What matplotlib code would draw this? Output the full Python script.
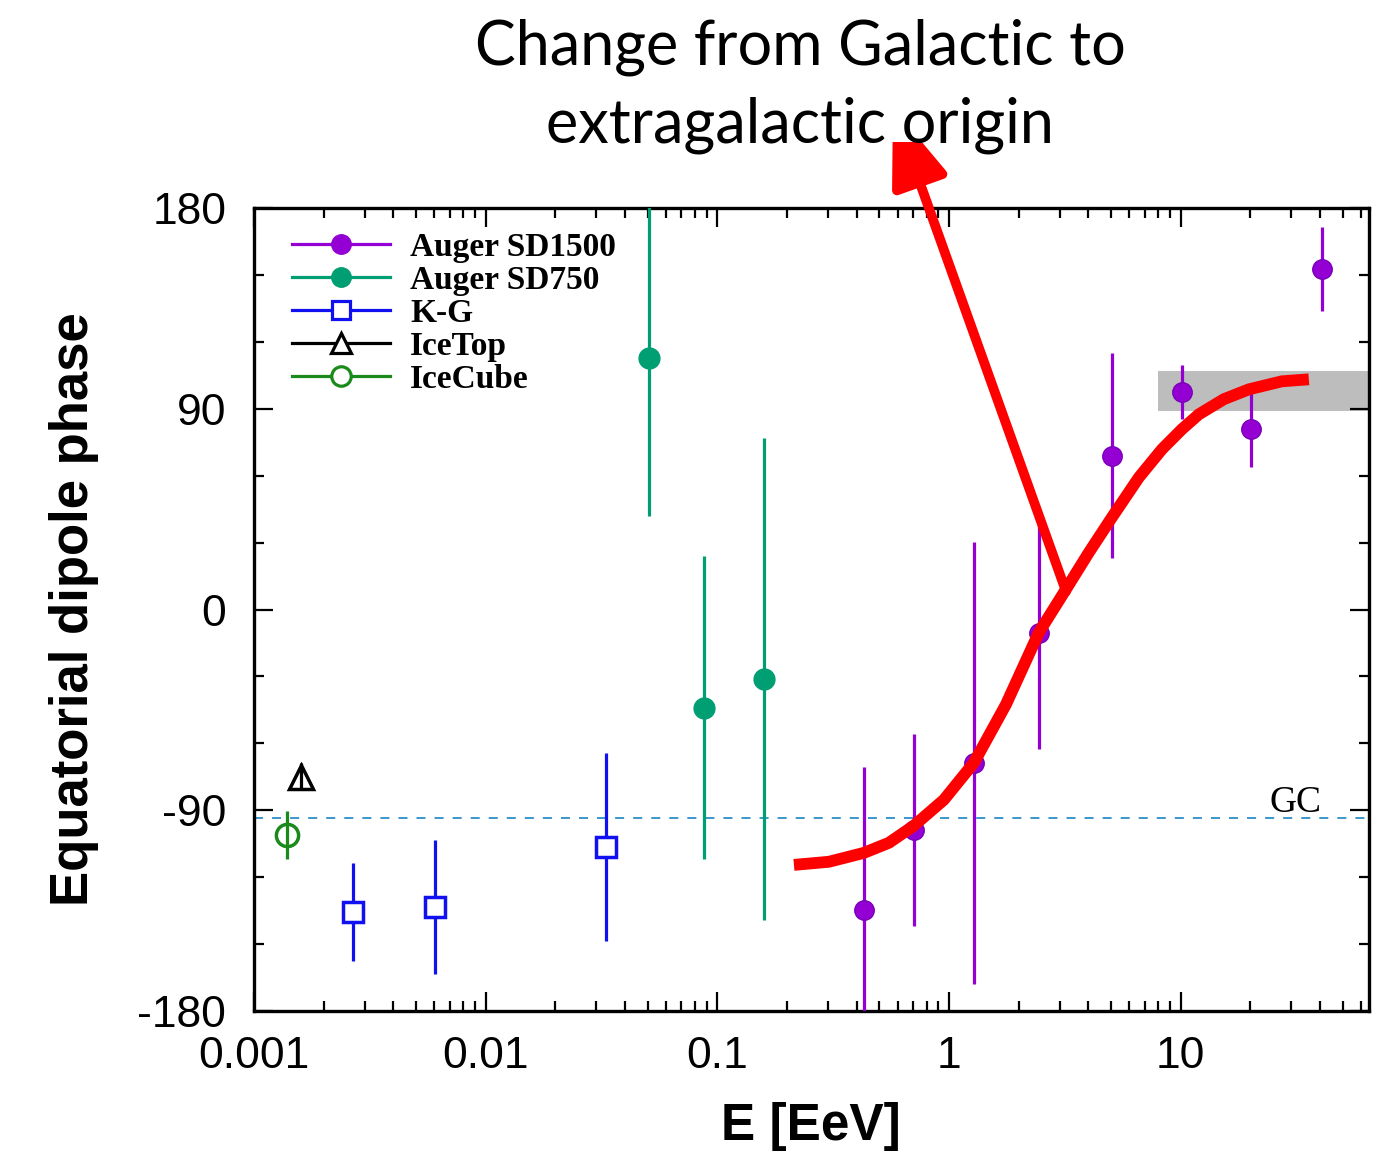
import matplotlib
matplotlib.use('Agg')
import matplotlib.pyplot as plt
from matplotlib.lines import Line2D
from matplotlib.ticker import FixedLocator, LogLocator, NullFormatter, FixedFormatter
from matplotlib.patches import FancyArrowPatch

plt.rcParams['axes.unicode_minus'] = False

# ---------------- data ----------------
sd1500_E = [0.43, 0.706, 1.28, 2.44, 5.05, 10.1, 20.2, 40.6]
sd1500_phase = [-134.6, -98.7, -68.7, -10.5, 69.0, 97.4, 80.8, 152.6]
sd1500_err = [64, 43, 99, 52, 46, 12, 17, 19]

sd750_E = [0.0507, 0.0875, 0.159]
sd750_phase = [112.7, -44.0, -31.0]
sd750_err = [71, 68, 108]

kg_E = [0.00267, 0.00604, 0.033]
kg_phase = [-135.5, -133.3, -106.4]
kg_err = [22, 30, 42]

icetop_E = [0.0016]
icetop_phase = [-75.0]
icetop_err = [6]

icecube_E = [0.00139]
icecube_phase = [-101.0]
icecube_err = [10.7]

gc_phase = -93.6
band_E = [8.0, 65.0]
band_low = [89, 89]
band_high = [107, 107]

# hand-drawn red trend curve
curve_E = [0.2141, 0.3031, 0.4293, 0.5502, 0.7056, 0.9506, 1.281, 1.761, 2.443,
           3.195, 4.017, 5.049, 6.600, 8.296, 10.12, 11.98, 15.37, 19.70, 27.35, 35.75]
curve_phase = [-114.5, -113.1, -109.1, -104.6, -96.9, -85.3, -68.7, -42.6, -10.3,
               9.0, 25.6, 41.3, 59.2, 71.8, 80.8, 87.5, 94.3, 98.7, 102.3, 103.2]
arrow_start = (3.2, 8.1)
arrow_end = (0.573, 225.0)

labels = ['Auger SD1500', 'Auger SD750', 'K-G', 'IceTop', 'IceCube']
ytick_vals = [-180, -90, 0, 90, 180]
xtick_vals = [0.001, 0.01, 0.1, 1, 10]
xtick_labels = ['0.001', '0.01', '0.1', '1', '10']

c1500 = '#9400d3'
c750 = '#009e73'
ckg = '#1010f0'
ctop = 'black'
ccube = '#1a8a1a'

tick_font = ['Liberation Sans', 'DejaVu Sans']

fig = plt.figure(figsize=(13.93, 11.57), dpi=100)
ax = fig.add_axes([254/1393, 1 - 1011/1157, 1115/1393, 803/1157])
ax.set_xscale('log')
ax.set_xlim(0.001, 65)
ax.set_ylim(-180, 180)

ax.fill_between(band_E, band_low, band_high, color='#bdbdbd', lw=0, zorder=1)
ax.axhline(gc_phase, color='#2a8fc8', lw=1.3, ls=(0, (5, 5)), zorder=1.5)
ax.text(40.5, -91, 'GC', ha='right', va='baseline', fontsize=27,
        family=['Liberation Serif', 'DejaVu Serif'], zorder=3)

ebkw = dict(capsize=0, elinewidth=2.3, linestyle='none', zorder=3)
ax.errorbar(sd1500_E, sd1500_phase, yerr=sd1500_err, fmt='o', color=c1500,
            ms=14, mec='#7a00b8', mew=1, **ebkw)
ax.errorbar(sd750_E, sd750_phase, yerr=sd750_err, fmt='o', color=c750,
            ms=15, **ebkw)
ax.errorbar(kg_E, kg_phase, yerr=kg_err, fmt='s', color=ckg, ms=15, mfc='white',
            mew=2.5, **ebkw)
ax.errorbar(icetop_E, icetop_phase, yerr=icetop_err, fmt='^', color=ctop, ms=17,
            mfc='none', mew=2.5, **ebkw)
ax.errorbar(icecube_E, icecube_phase, yerr=icecube_err, fmt='o', color=ccube,
            ms=16, mfc='none', mew=2.5, **ebkw)

# red annotation curve and arrow
ax.plot(curve_E, curve_phase, color='red', lw=8.5, solid_capstyle='butt',
        solid_joinstyle='round', zorder=4, clip_on=False)
arr = FancyArrowPatch(arrow_start, arrow_end, transform=ax.transData,
                      arrowstyle='-|>,head_length=2.35,head_width=0.87',
                      mutation_scale=20, color='red', lw=7, zorder=4,
                      clip_on=False, shrinkA=0, shrinkB=0)
ax.add_patch(arr)

# ticks
ax.yaxis.set_major_locator(FixedLocator(ytick_vals))
ax.yaxis.set_minor_locator(FixedLocator(list(range(-180, 181, 30))))
ax.xaxis.set_major_locator(FixedLocator(xtick_vals))
ax.xaxis.set_major_formatter(FixedFormatter(xtick_labels))
ax.xaxis.set_minor_locator(LogLocator(base=10, subs=range(2, 10), numticks=20))
ax.xaxis.set_minor_formatter(NullFormatter())
ax.tick_params(which='both', direction='in', top=True, right=True, width=1.6)
ax.tick_params(which='major', length=14)
ax.tick_params(which='minor', length=7)
ax.tick_params(axis='y', which='major', pad=20)
ax.tick_params(axis='x', which='major', pad=18)
for lab in ax.get_xticklabels() + ax.get_yticklabels():
    lab.set_family(tick_font)
    lab.set_fontsize(32)
for s in ax.spines.values():
    s.set_linewidth(2.4)

ax.set_ylabel('Equatorial dipole phase', fontsize=38, fontweight='bold',
              family=['Liberation Sans', 'DejaVu Sans'])
ax.yaxis.set_label_coords(-0.139, 0.5)
ax.set_xlabel('E [EeV]', fontsize=37, fontweight='bold',
              family=['Liberation Sans', 'DejaVu Sans'])
ax.xaxis.set_label_coords(0.4996, -0.113)

handles = [
    Line2D([], [], color=c1500, marker='o', ms=14, lw=2.3),
    Line2D([], [], color=c750, marker='o', ms=14, lw=2.3),
    Line2D([], [], color=ckg, marker='s', ms=13, mfc='white', mew=2.3, lw=2.3),
    Line2D([], [], color=ctop, marker='^', ms=14, mfc='white', mew=2.3, lw=2.3),
    Line2D([], [], color=ccube, marker='o', ms=14, mfc='white', mew=2.3, lw=2.3),
]
leg = ax.legend(handles, labels, loc='upper left', bbox_to_anchor=(0.034, 0.970),
                frameon=False, borderpad=0, borderaxespad=0, handlelength=2.95,
                handletextpad=0.6, labelspacing=0.06,
                prop=dict(family=['Liberation Serif', 'DejaVu Serif'],
                          weight='bold', size=24))

fig.text(800/1393, 1 - 143/1157, 'Change from Galactic to\nextragalactic origin',
         ha='center', va='baseline', fontsize=44, linespacing=1.45,
         family=['Lato', 'DejaVu Sans'], zorder=10,
         bbox=dict(boxstyle='square,pad=-0.2', facecolor='white', edgecolor='none'))

fig.savefig('out.png', dpi=100)
